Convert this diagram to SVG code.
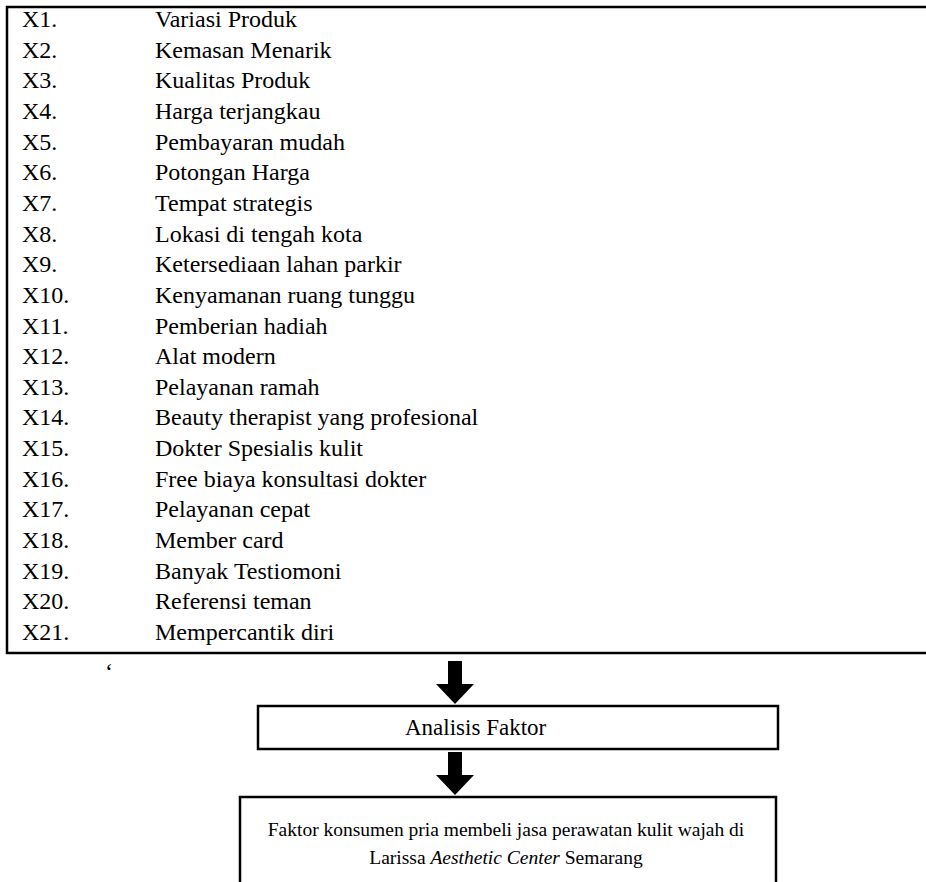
<svg xmlns="http://www.w3.org/2000/svg" width="926" height="882" viewBox="0 0 926 882">
<style>
text{font-family:"Liberation Serif","Times New Roman",serif;font-size:24px;fill:#000}
.box{fill:#fff;stroke:#000;stroke-width:2.5}
.c{text-anchor:middle}
.s{font-size:19.5px}
</style>
<rect width="926" height="882" fill="#fff"/>
<g id="list">
<rect class="box" x="7" y="7" width="940" height="646"/>
<g id="labels">
<text x="22" y="27">X1.</text><text x="155" y="27">Variasi Produk</text>
<text x="22" y="57.65">X2.</text><text x="155" y="57.65">Kemasan Menarik</text>
<text x="22" y="88.3">X3.</text><text x="155" y="88.3">Kualitas Produk</text>
<text x="22" y="118.95">X4.</text><text x="155" y="118.95">Harga terjangkau</text>
<text x="22" y="149.6">X5.</text><text x="155" y="149.6">Pembayaran mudah</text>
<text x="22" y="180.25">X6.</text><text x="155" y="180.25">Potongan Harga</text>
<text x="22" y="210.9">X7.</text><text x="155" y="210.9">Tempat strategis</text>
<text x="22" y="241.55">X8.</text><text x="155" y="241.55">Lokasi di tengah kota</text>
<text x="22" y="272.2">X9.</text><text x="155" y="272.2">Ketersediaan lahan parkir</text>
<text x="22" y="302.85">X10.</text><text x="155" y="302.85">Kenyamanan ruang tunggu</text>
<text x="22" y="333.5">X11.</text><text x="155" y="333.5">Pemberian hadiah</text>
<text x="22" y="364.15">X12.</text><text x="155" y="364.15">Alat modern</text>
<text x="22" y="394.8">X13.</text><text x="155" y="394.8">Pelayanan ramah</text>
<text x="22" y="425.45">X14.</text><text x="155" y="425.45">Beauty therapist yang profesional</text>
<text x="22" y="456.1">X15.</text><text x="155" y="456.1">Dokter Spesialis kulit</text>
<text x="22" y="486.75">X16.</text><text x="155" y="486.75">Free biaya konsultasi dokter</text>
<text x="22" y="517.4">X17.</text><text x="155" y="517.4">Pelayanan cepat</text>
<text x="22" y="548.05">X18.</text><text x="155" y="548.05">Member card</text>
<text x="22" y="578.7">X19.</text><text x="155" y="578.7">Banyak Testiomoni</text>
<text x="22" y="609.35">X20.</text><text x="155" y="609.35">Referensi teman</text>
<text x="22" y="640">X21.</text><text x="155" y="640">Mempercantik diri</text>
</g>
</g>
<text x="105" y="680">‘</text>
<g id="connectors">
<polygon points="448,661 462,661 462,684 474,684 455,704 436,684 448,684" fill="#000"/>
<polygon points="448,752 462,752 462,775 474,775 455,795 436,775 448,775" fill="#000"/>
</g>
<g id="analisis">
<rect class="box" x="258" y="706" width="520" height="43"/>
<text x="405" y="735" style="font-size:23px">Analisis Faktor</text>
</g>
<g id="hasil">
<rect class="box" x="240" y="797" width="536" height="100"/>
<text class="c s" x="506" y="836">Faktor konsumen pria membeli jasa perawatan kulit wajah di</text>
<text class="c s" x="506" y="864">Larissa <tspan font-style="italic">Aesthetic Center</tspan> Semarang</text>
</g>
</svg>
